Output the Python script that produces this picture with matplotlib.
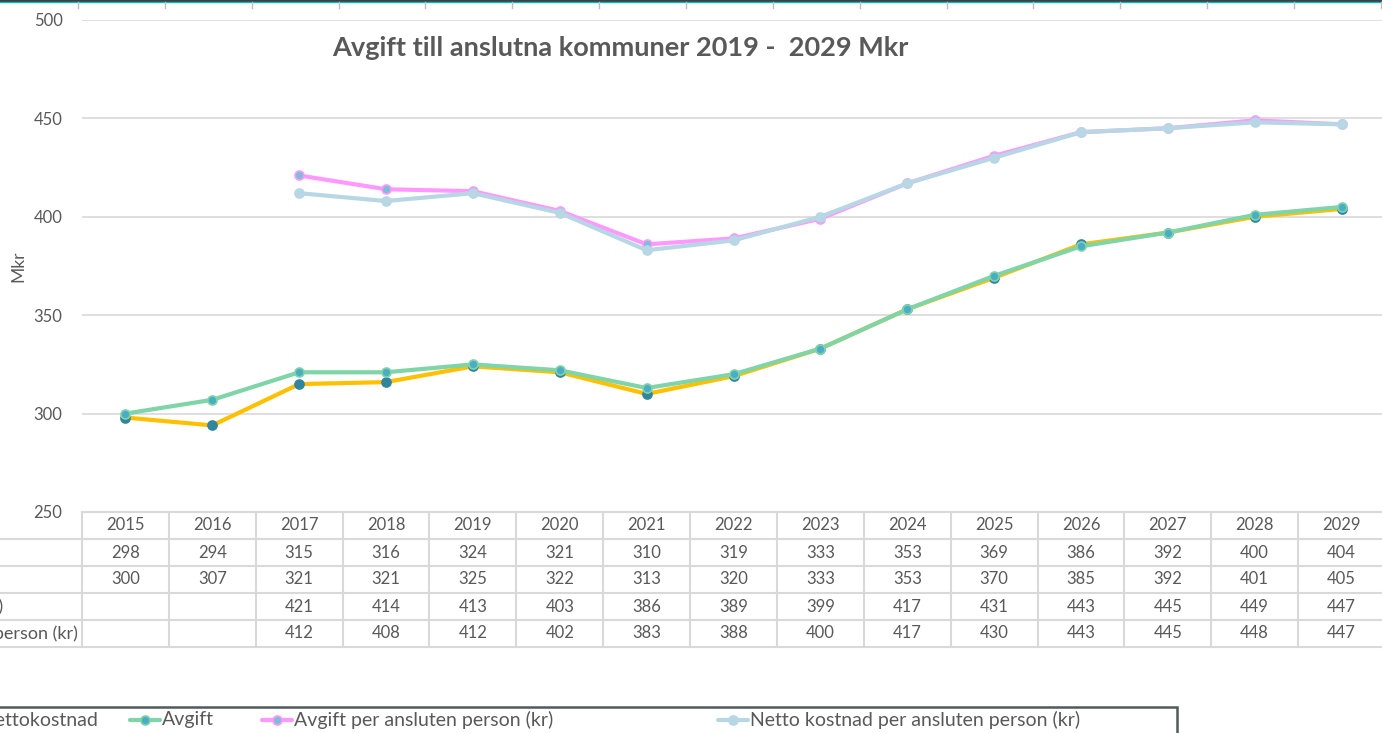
import numpy as np
import matplotlib
matplotlib.use("Agg")
import matplotlib.pyplot as plt
from matplotlib.lines import Line2D
from matplotlib.patches import Rectangle
from matplotlib.transforms import blended_transform_factory

plt.rcParams['font.family'] = ['Lato', 'DejaVu Sans']

years = [2015, 2016, 2017, 2018, 2019, 2020, 2021, 2022, 2023, 2024, 2025, 2026, 2027, 2028, 2029]
nettokostnad = [298, 294, 315, 316, 324, 321, 310, 319, 333, 353, 369, 386, 392, 400, 404]
avgift = [300, 307, 321, 321, 325, 322, 313, 320, 333, 353, 370, 385, 392, 401, 405]
avgift_pp = [None, None, 421, 414, 413, 403, 386, 389, 399, 417, 431, 443, 445, 449, 447]
netto_pp = [None, None, 412, 408, 412, 402, 383, 388, 400, 417, 430, 443, 445, 448, 447]

series_names = ["Nettokostnad", "Avgift", "Avgift per ansluten person (kr)",
                "Netto kostnad per ansluten person (kr)"]
series_values = [nettokostnad, avgift, avgift_pp, netto_pp]

line_colors = ["#FFC000", "#7FD4A8", "#FF99FF", "#B7D7E4"]
marker_faces = ["#31859C", "#4BACC6", "#7FBCD8", "#B7D7E4"]
marker_edges = ["#31859C", "#7FD4A8", "#FF99FF", "#B7D7E4"]
text_col = "#595959"
grid_col = "#D9D9D9"

W, H = 1382, 733
fig = plt.figure(figsize=(W / 100, H / 100), dpi=100)


def fx(x):
    return x / W


def fy(y):
    return 1 - y / H


# axes in pixel layout of the reference
ax_left, ax_right, ax_top, ax_bottom = 82, 1385, 20, 512
ax = fig.add_axes([fx(ax_left), fy(ax_bottom), fx(ax_right - ax_left), (ax_bottom - ax_top) / H])

x = np.arange(len(years))
for i in range(len(series_values)):
    vals = np.array([np.nan if v is None else v for v in series_values[i]], dtype=float)
    ax.plot(x, vals, color=line_colors[i], lw=3, marker='o', ms=6.5,
            mfc=marker_faces[i], mec=marker_edges[i], mew=1.2, zorder=3 + i,
            solid_joinstyle='round')

ax.set_xlim(-0.5, len(years) - 0.5)
ax.set_ylim(250, 500)
ax.set_yticks([250, 300, 350, 400, 450, 500])
ax.grid(axis='y', color=grid_col, lw=1.2)
ax.set_axisbelow(True)
for s in ax.spines.values():
    s.set_visible(False)
ax.tick_params(axis='y', length=0, labelsize=12, labelcolor=text_col, pad=14)
ax.tick_params(axis='x', length=0, labelbottom=False)
ax.set_ylabel("Mkr", fontsize=12.5, color=text_col, labelpad=5)

ax.set_title("Avgift till anslutna kommuner 2019 -  2029 Mkr", fontsize=19.5, fontweight='bold',
             color=text_col, x=(620 - ax_left) / (ax_right - ax_left), y=0.91)

# data table under the plot
trans = blended_transform_factory(ax.transData, ax.transAxes)
row_h = 27 / (ax_bottom - ax_top)
n_rows = 1 + len(series_values)
tab_bottom = -row_h * n_rows
line_kw = dict(color=grid_col, lw=1.5, clip_on=False, zorder=1)

ax.plot([-0.5, len(years) - 0.5], [0, 0], transform=trans, **line_kw)
for r in range(1, n_rows + 1):
    ax.plot([-5, len(years) - 0.5], [-row_h * r] * 2, transform=trans, **line_kw)
for c in range(len(years) + 1):
    ax.plot([c - 0.5] * 2, [0, tab_bottom], transform=trans, **line_kw)

for c, yr in enumerate(years):
    ax.text(c, -row_h * 0.5, str(yr), transform=trans, ha='center', va='center',
            fontsize=12, color=text_col)
for r, vals in enumerate(series_values):
    for c, v in enumerate(vals):
        if v is not None:
            ax.text(c, -row_h * (r + 1.5), str(v), transform=trans, ha='center',
                    va='center', fontsize=12, color=text_col)

# row labels, mostly cropped off on the left
label_ends = [-120, -120, 3, 78]
for r, name in enumerate(series_names):
    fig.text(fx(label_ends[r]), fy(ax_bottom + 27 * (r + 1.5)), name, ha='right', va='center',
             fontsize=13, color=text_col)

# legend box at the bottom
fig.patches.append(Rectangle((fx(-200), fy(760)), fx(1177 + 200), (760 - 707) / H,
                             transform=fig.transFigure, fill=False, ec="#505A5A", lw=1.8))
leg_y = fy(720)
leg_keys = [-52, 130, 262, 718]
for i, k in enumerate(leg_keys):
    fig.lines.append(Line2D([fx(k), fx(k + 30)], [leg_y, leg_y], transform=fig.transFigure,
                            color=line_colors[i], lw=3, solid_capstyle='round'))
    fig.lines.append(Line2D([fx(k + 15)], [leg_y], transform=fig.transFigure, marker='o',
                            ms=6.5, mfc=marker_faces[i], mec=marker_edges[i], mew=1.2))
    fig.text(fx(k + 32), leg_y, series_names[i], ha='left', va='center', fontsize=14,
             color=text_col)

# strip of the sheet border at the very top
fig.lines.append(Line2D([0, 1], [fy(0.5), fy(0.5)], transform=fig.transFigure,
                        color="#1A1A1A", lw=1.2))
fig.lines.append(Line2D([0, 1], [fy(2), fy(2)], transform=fig.transFigure,
                        color="#00B8C8", lw=1))
for c in range(len(years) + 1):
    xp = ax_left - 4 + c * 86.86
    fig.lines.append(Line2D([fx(xp), fx(xp)], [fy(2), fy(8)], transform=fig.transFigure,
                            color="#BFBFBF", lw=1))

fig.savefig("out.png", dpi=100)
